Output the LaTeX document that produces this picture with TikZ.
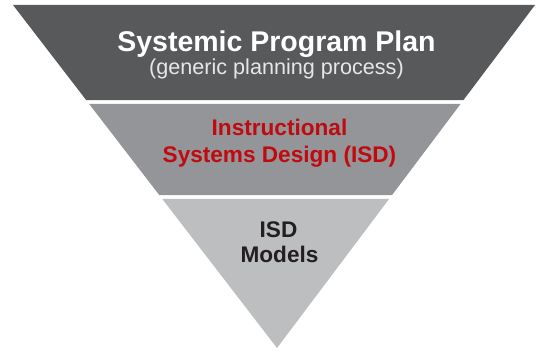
\documentclass[tikz,border=0pt]{standalone}
\usepackage{fontspec}
\setmainfont{Liberation Sans}
\usetikzlibrary{calc}
\definecolor{bandtop}{HTML}{58595B}
\definecolor{bandmid}{HTML}{939598}
\definecolor{bandlow}{HTML}{BCBEC0}
\definecolor{isdred}{HTML}{C00A0F}
\definecolor{subgray}{HTML}{E6E7E8}
\definecolor{inkblack}{HTML}{231F20}
\tikzset{
  lab/.style={anchor=base, inner sep=0pt},
  bigtitle/.style={lab, font=\fontsize{28.5}{30}\selectfont\bfseries, text=white},
  subtitle/.style={lab, font=\fontsize{21.6}{24}\selectfont, text=subgray},
  midtitle/.style={lab, font=\fontsize{22.6}{24}\selectfont\bfseries, text=isdred},
  lowtitle/.style={lab, font=\fontsize{22.6}{24}\selectfont\bfseries, text=inkblack},
}

\begin{document}
\begin{tikzpicture}[x=1pt,y=-1pt]
  \useasboundingbox (0,0) rectangle (540,352);
  \coordinate (tl) at (13,5);
  \coordinate (tr) at (535,5);
  \coordinate (apex) at (277,348);
% =========================================================
% bands of the inverted triangle
% =========================================================
  \fill[bandtop] (tl) -- (tr) -- ($(tr)!0.277!(apex)$) -- ($(tl)!0.277!(apex)$) -- cycle;
  \fill[bandmid] ($(tl)!0.2886!(apex)$) -- ($(tr)!0.2886!(apex)$)
     -- ($(tr)!0.554!(apex)$) -- ($(tl)!0.554!(apex)$) -- cycle;
  \fill[bandlow] ($(tl)!0.5656!(apex)$) -- ($(tr)!0.5656!(apex)$) -- (apex) -- cycle;
% =========================================================
% labels
% =========================================================
  \node[bigtitle] (plan) at (276.5,52) {Systemic Program Plan};
  \node[subtitle] (generic) at (276.5,75) {(generic planning process)};
  \node[midtitle] (instr) at (279.5,136) {Instructional};
  \node[midtitle] (isd) at (279.5,163) {Systems Design (ISD)};
  \node[lowtitle] (isdtop) at (278.5,238) {ISD};
  \node[lowtitle] (models) at (279.5,263) {Models};
\end{tikzpicture}
\end{document}
